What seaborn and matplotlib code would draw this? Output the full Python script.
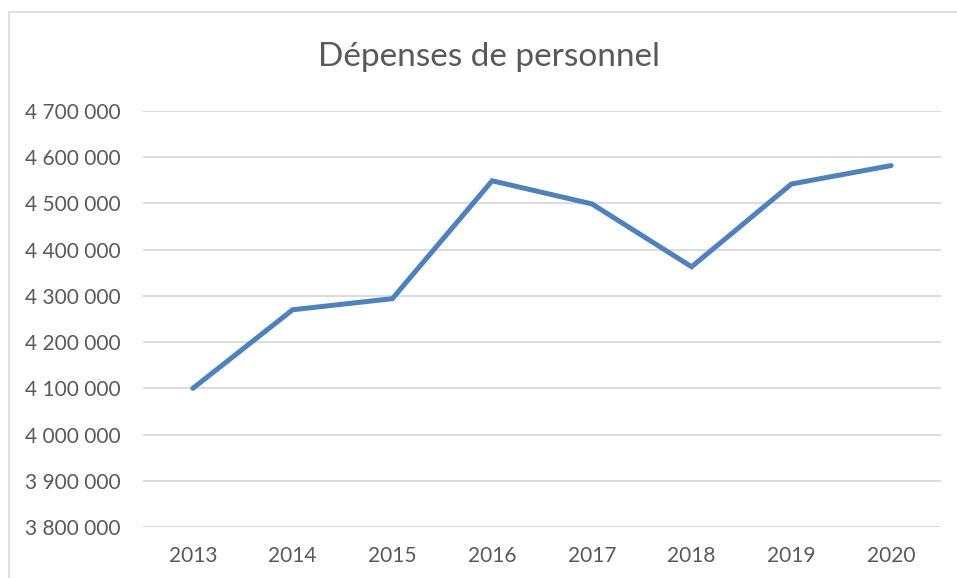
import matplotlib
matplotlib.use("Agg")
import matplotlib.pyplot as plt
import matplotlib.patches as mpatches
from matplotlib.ticker import FuncFormatter
import seaborn as sns
import pandas as pd

years = [2013, 2014, 2015, 2016, 2017, 2018, 2019, 2020]
depenses = [4100000, 4270000, 4294000, 4549000, 4499000, 4363000, 4542000, 4582000]
title = "Dépenses de personnel"

sns.set_theme(style="white")
plt.rcParams['font.family'] = ['Lato', 'DejaVu Sans']

df = pd.DataFrame({"annee": years, "depenses": depenses})

fig = plt.figure(figsize=(9.57, 5.78), dpi=100)
ax = fig.add_axes([143/957, 1-527/578, (941-143)/957, (527-111)/578])

sns.lineplot(data=df, x="annee", y="depenses", ax=ax, color="#4F81BD",
             linewidth=3.6, solid_capstyle="round", solid_joinstyle="miter")

ax.set_xlim(years[0]-0.5, years[-1]+0.5)
ax.set_ylim(3800000, 4700000)
ax.set_yticks(range(3800000, 4700001, 100000))
ax.set_xticks(years)
ax.yaxis.set_major_formatter(FuncFormatter(lambda v, p: f"{int(v):,}".replace(",", " ")))
ax.grid(axis="y", color="#D9D9D9", linewidth=1.3)
ax.set_axisbelow(True)
for s in ax.spines.values():
    s.set_visible(False)
ax.tick_params(axis="both", length=0, labelsize=15, colors="#595959")
ax.tick_params(axis="y", pad=16)
ax.tick_params(axis="x", pad=14)
ax.set_xlabel("")
ax.set_ylabel("")

fig.text(489/957, 1-57/578, title, ha="center", va="center", fontsize=24, color="#595959")

border = mpatches.Rectangle((9/957, -0.05), 1.2, 1-12/578+0.05, transform=fig.transFigure,
                            fill=False, edgecolor="#D9D9D9", linewidth=1.2)
fig.patches.append(border)

fig.savefig("out.png", dpi=100)
